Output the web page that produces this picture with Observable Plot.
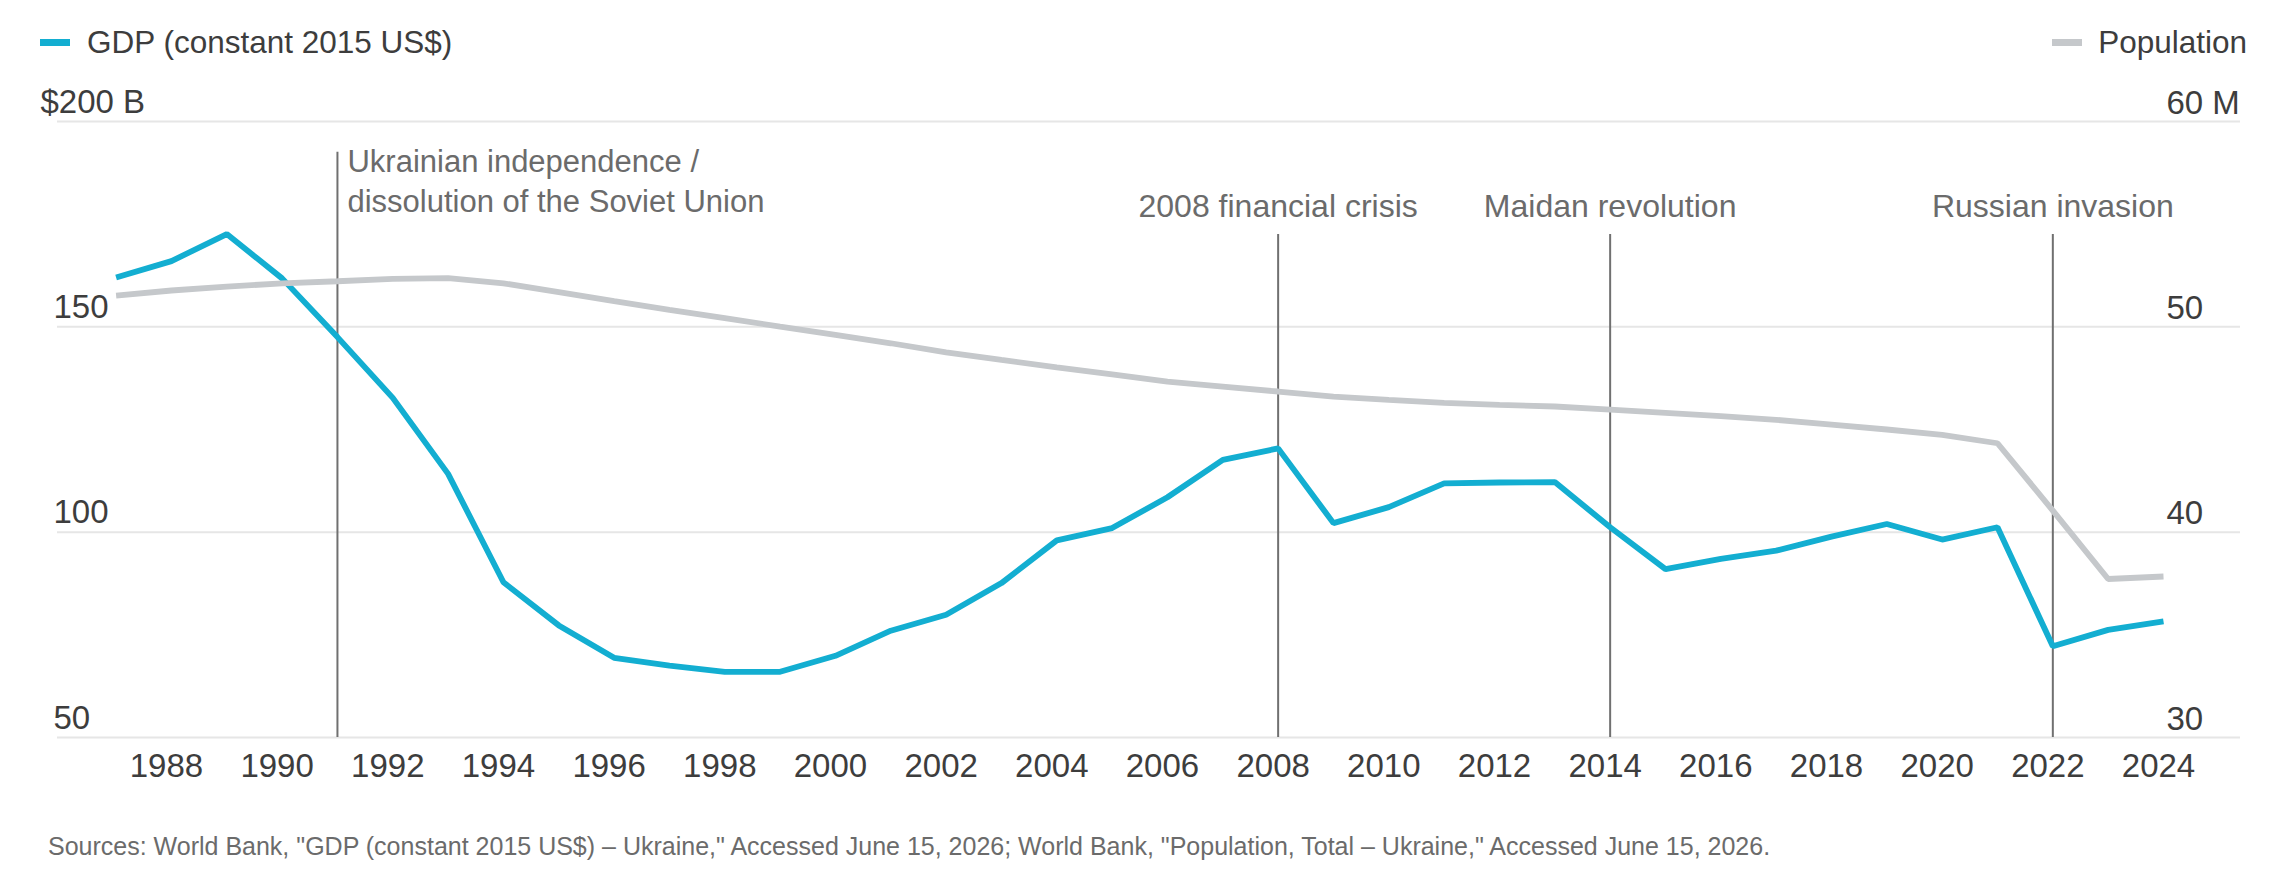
<!DOCTYPE html>
<html>
<head>
<meta charset="utf-8">
<script src="https://cdn.jsdelivr.net/npm/d3@7"></script>
<script src="https://cdn.jsdelivr.net/npm/@observablehq/plot@0.6"></script>
<style>
  html, body { margin: 0; padding: 0; background: #fff; }
  body { font-family: "Liberation Sans", Arial, sans-serif; }
  #wrap { position: relative; width: 2280px; height: 893px; overflow: hidden; }
  .legend { position: relative; height: 80px; }
  .sw { position: absolute; top: 39px; width: 30px; height: 7px; }
  .lt { position: absolute; top: 27px; font-size: 31.5px; line-height: 1; color: #3d3d3d; white-space: nowrap; }
  #chart svg { display: block; }
  .caption { position: absolute; left: 48px; top: 834px; font-size: 25px; line-height: 1; color: #6b6b6b; white-space: nowrap; }
</style>
</head>
<body>
<div id="wrap">
  <div class="legend">
    <div class="sw" style="left:40px;background:#13aed1"></div>
    <div class="lt" style="left:87px">GDP (constant 2015 US$)</div>
    <div class="sw" style="left:2052px;background:#c5c8cb"></div>
    <div class="lt" style="right:33px">Population</div>
  </div>
  <div id="chart"></div>
  <div class="caption">Sources: World Bank, "GDP (constant 2015 US$) – Ukraine," Accessed June 15, 2026; World Bank, "Population, Total – Ukraine," Accessed June 15, 2026.</div>
</div>
<script>
// ---- Data ----
const years = [1987,1988,1989,1990,1991,1992,1993,1994,1995,1996,1997,1998,1999,2000,2001,2002,2003,2004,2005,2006,2007,2008,2009,2010,2011,2012,2013,2014,2015,2016,2017,2018,2019,2020,2021,2022,2023,2024];
// GDP, constant 2015 US$, billions
const gdp = [162.0,166.0,172.6,161.8,147.5,132.7,114.2,87.8,77.3,69.4,67.5,66.0,66.0,69.9,76.0,79.9,87.6,98.0,101.0,108.5,117.6,120.4,102.2,106.1,111.9,112.1,112.2,101.2,91.0,93.5,95.5,98.9,102.0,98.2,101.2,72.2,76.2,78.3];
// Population, millions
const population = [51.52,51.77,51.96,52.12,52.22,52.34,52.37,52.12,51.69,51.25,50.83,50.42,50.01,49.61,49.20,48.76,48.39,48.03,47.68,47.33,47.09,46.85,46.60,46.44,46.30,46.20,46.12,45.97,45.81,45.65,45.47,45.24,45.00,44.74,44.33,41.05,37.72,37.84];

const gdpTicks = [50, 100, 150, 200];
const popTicks = [30, 40, 50, 60];
const yearTicks = [1988,1990,1992,1994,1996,1998,2000,2002,2004,2006,2008,2010,2012,2014,2016,2018,2020,2022,2024];

const eventYears = [1991, 2008, 2014, 2022];
const eventLabels = ["Ukrainian independence /\ndissolution of the Soviet Union", "2008 financial crisis", "Maidan revolution", "Russian invasion"];
const eventTops = [192.5, 172.5, 172.5, 172.5]; // top of each marker line, in GDP-axis units

// ---- Derived tables ----
// Population axis (30–60 M) shares the gridlines of the GDP axis (50–200 B)
const popToGdp = p => 50 + (p - 30) * 5;
const rows = years.map((year, i) => ({year, gdp: gdp[i], pop: population[i]}));
const events = eventYears.map((year, i) => ({year, label: eventLabels[i], top: eventTops[i]}));

const textColor = "#3d3d3d";
const noteColor = "#6b6b6b";

const chart = Plot.plot({
  width: 2280,
  height: 720,
  marginTop: 41,
  marginBottom: 63,
  marginLeft: 57,
  marginRight: 40,
  style: {fontFamily: '"Liberation Sans", Arial, sans-serif', background: "transparent", overflow: "visible"},
  x: {domain: [1987, 2024], range: [115.6, 2163], axis: null},
  y: {domain: [50, 200], axis: null},
  marks: [
    Plot.gridY(gdpTicks, {stroke: "#e6e6e6", strokeOpacity: 1, strokeWidth: 2}),
    Plot.ruleX(events, {x: "year", y1: 50, y2: "top", stroke: "#707070", strokeWidth: 2}),
    Plot.line(rows, {x: "year", y: "gdp", stroke: "#13aed1", strokeWidth: 5.8, strokeLinejoin: "miter", strokeLinecap: "butt"}),
    Plot.line(rows, {x: "year", y: d => popToGdp(d.pop), stroke: "#c5c8cb", strokeWidth: 5.8, strokeLinejoin: "miter", strokeLinecap: "butt"}),
    // left axis labels
    Plot.text(gdpTicks.filter(d => d < 200), {y: d => d, text: d => String(d), frameAnchor: "left", textAnchor: "start", lineAnchor: "bottom", dx: -4, dy: -9, fontSize: 33, fill: textColor}),
    Plot.text(gdpTicks.filter(d => d === 200), {y: d => d, text: d => `$${d} B`, frameAnchor: "left", textAnchor: "start", lineAnchor: "bottom", dx: -17, dy: -9, fontSize: 33, fill: textColor}),
    // right axis labels
    Plot.text(popTicks, {y: d => popToGdp(d), text: d => d === 60 ? `${d} M` : String(d), frameAnchor: "right", textAnchor: "start", lineAnchor: "bottom", dx: -74, dy: -8, fontSize: 33, fill: textColor}),
    // x axis
    Plot.axisX(yearTicks, {tickSize: 0, tickPadding: 16, fontSize: 33, color: textColor, tickFormat: d => String(d), dx: -5, label: null}),
    // event annotations
    Plot.text(events.slice(0, 1), {x: "year", y: "top", text: "label", textAnchor: "start", lineAnchor: "top", lineHeight: 1.3, dx: 10, dy: -9, fontSize: 31, fill: noteColor}),
    Plot.text(events.slice(1), {x: "year", y: "top", text: "label", textAnchor: "middle", lineAnchor: "bottom", dy: -17, fontSize: 32, fill: noteColor})
  ]
});
document.getElementById("chart").appendChild(chart);
</script>
</body>
</html>
